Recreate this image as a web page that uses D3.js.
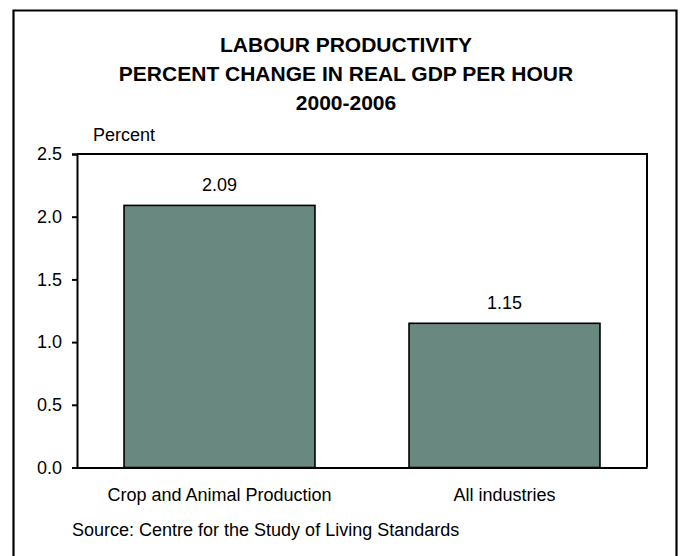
<!DOCTYPE html>
<html>
<head>
<meta charset="utf-8">
<script src="https://cdn.jsdelivr.net/npm/d3@7"></script>
<style>
  html, body { margin: 0; padding: 0; background: #fff; }
  svg { display: block; font-family: "Liberation Sans", Arial, sans-serif; }
</style>
</head>
<body>
<svg id="chart" width="681" height="556"></svg>
<script>
// Labour productivity growth, 2000-2006
const categories = ["Crop and Animal Production", "All industries"];
const values = [2.09, 1.15];
const yTicks = [0.0, 0.5, 1.0, 1.5, 2.0, 2.5];
const titleLines = ["LABOUR PRODUCTIVITY", "PERCENT CHANGE IN REAL GDP PER HOUR", "2000-2006"];

const svg = d3.select("#chart");
const FONT = "Liberation Sans, Arial, sans-serif";

// Outer frame (open at the bottom edge of the page)
svg.append("path")
  .attr("d", "M13.5,570 V10.5 H676.5 V570")
  .attr("fill", "none")
  .attr("stroke", "#000")
  .attr("stroke-width", 2.2);

// Title
svg.append("g").selectAll("text")
  .data(titleLines)
  .join("text")
  .attr("x", 346)
  .attr("y", (d, i) => 52 + i * 29)
  .attr("text-anchor", "middle")
  .attr("font-size", 21)
  .attr("font-weight", "bold")
  .text(d => d);

const plot = { left: 77, right: 647, top: 154, bottom: 467.5 };

const x = d3.scaleBand()
  .domain(categories)
  .range([plot.left, plot.right])
  .paddingInner(0.33)
  .paddingOuter(0.165);

const y = d3.scaleLinear()
  .domain([0, 2.5])
  .range([plot.bottom, plot.top]);

// Bars
svg.append("g").selectAll("rect")
  .data(values)
  .join("rect")
  .attr("x", (d, i) => x(categories[i]))
  .attr("y", d => y(d))
  .attr("width", x.bandwidth())
  .attr("height", d => y(0) - y(d))
  .attr("fill", "#698880")
  .attr("stroke", "#000")
  .attr("stroke-width", 1.6);

// Value labels
svg.append("g").selectAll("text")
  .data(values)
  .join("text")
  .attr("x", (d, i) => x(categories[i]) + x.bandwidth() / 2)
  .attr("y", d => y(d) - 14)
  .attr("text-anchor", "middle")
  .attr("font-size", 18)
  .text(d => d.toFixed(2));

// Plot box: top and right edges
svg.append("path")
  .attr("d", `M${plot.left},${plot.top} H${plot.right} V${plot.bottom}`)
  .attr("fill", "none")
  .attr("stroke", "#000")
  .attr("stroke-width", 2);

// Y axis
const yAxis = svg.append("g")
  .attr("transform", `translate(${plot.left},0)`)
  .call(d3.axisLeft(y).tickValues(yTicks).tickFormat(d3.format(".1f")).tickSize(5).tickPadding(10));
yAxis.select(".domain").attr("stroke-width", 2);
yAxis.selectAll(".tick line").attr("stroke-width", 2);
yAxis.selectAll(".tick text").attr("font-size", 18).attr("font-family", FONT).attr("fill", "#000");

// X axis
const xAxis = svg.append("g")
  .attr("transform", `translate(0,${plot.bottom})`)
  .call(d3.axisBottom(x).tickSize(0).tickPadding(21));
xAxis.select(".domain").attr("stroke-width", 2);
xAxis.selectAll(".tick text").attr("font-size", 18).attr("font-family", FONT).attr("fill", "#000");

// Axis unit label
svg.append("text")
  .attr("x", 93)
  .attr("y", 141)
  .attr("font-size", 18)
  .text("Percent");

// Source note
svg.append("text")
  .attr("x", 72)
  .attr("y", 536)
  .attr("font-size", 18)
  .text("Source: Centre for the Study of Living Standards");
</script>
</body>
</html>
